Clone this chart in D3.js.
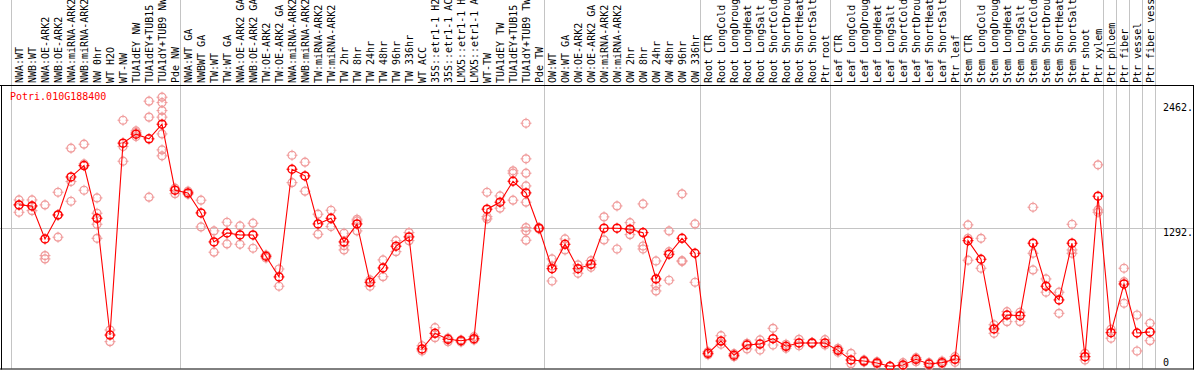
<!DOCTYPE html>
<html>
<head>
<meta charset="utf-8">
<script src="https://cdn.jsdelivr.net/npm/d3@7"></script>
<style>
    body { margin: 0; background: #fff; }
    svg { display: block; }
    text { font-family: "DejaVu Sans Mono", monospace; font-size: 10px; }
</style>
</head>
<body>
<div id="chart"></div>
<script>
const geneName = 'Potri.010G188400';

const sampleLabels = [
    'NWA:WT', 'NWB:WT', 'NWA:OE-ARK2', 'NWB:OE-ARK2', 'NWA:miRNA-ARK2', 'NWB:miRNA-ARK2', 'NW 0hr', 'WT H2O', 'WT-NW',
    'TUA1dEY NW', 'TUA1dEY+TUB15', 'TUA1dY+TUB9 NW', 'Pde NW',
    'NWA:WT GA', 'NWBWT GA', 'TW:WT', 'TW:WT GA', 'NWA:OE-ARK2 GA', 'NWB:OE-ARK2 GA', 'TW:OE-ARK2', 'TW:OE-ARK2 GA',
    'NWA:miRNA-ARK2', 'NWB:miRNA-ARK2', 'TW:miRNA-ARK2', 'TW:miRNA-ARK2', 'TW 2hr', 'TW 8hr', 'TW 24hr', 'TW 48hr',
    'TW 96hr', 'TW 336hr', 'WT ACC', '35S::etr1-1 H2O', '35S::etr1-1 ACC', 'LMX5::etr1-1 H2O', 'LMX5::etr1-1 ACC',
    'WT-TW', 'TUA1dEY TW', 'TUA1dEY+TUB15', 'TUA1dY+TUB9 TW', 'Pde TW',
    'OW:WT', 'OW:WT GA', 'OW:OE-ARK2', 'OW:OE-ARK2 GA', 'OW:miRNA-ARK2', 'OW:miRNA-ARK2', 'OW 2hr', 'OW 8hr',
    'OW 24hr', 'OW 48hr', 'OW 96hr', 'OW 336hr',
    'Root CTR', 'Root LongCold', 'Root LongDrought', 'Root LongHeat', 'Root LongSalt', 'Root ShortCold',
    'Root ShortDrought', 'Root ShortHeat', 'Root ShortSalt', 'Ptr root',
    'Leaf CTR', 'Leaf LongCold', 'Leaf LongDrought', 'Leaf LongHeat', 'Leaf LongSalt', 'Leaf ShortCold',
    'Leaf ShortDrought', 'Leaf ShortHeat', 'Leaf ShortSalt', 'Ptr leaf',
    'Stem CTR', 'Stem LongCold', 'Stem LongDrought', 'Stem LongHeat', 'Stem LongSalt', 'Stem ShortCold',
    'Stem ShortDrought', 'Stem ShortHeat', 'Stem ShortSalt', 'Ptr shoot', 'Ptr xylem',
    'Ptr phloem', 'Ptr fiber', 'Ptr vessel', 'Ptr fiber vessel'
];

const meanValues = [
    1510, 1500, 1192, 1416, 1771, 1877, 1385, 294, 2087, 2171, 2127, 2264, 1647,
    1622, 1435, 1164, 1248, 1229, 1229, 1030, 837, 1843, 1781, 1332, 1385, 1164, 1332, 787, 921,
    1124, 1211, 164, 310, 254, 241, 260, 1470, 1535, 1731, 1622, 1292,
    914, 1142, 914, 955, 1292, 1292, 1283, 1251, 818, 1049, 1198, 1058,
    123, 238, 105, 201, 210, 260, 189, 220, 220, 220,
    151, 61, 51, 33, 2, 14, 67, 23, 36, 67,
    1176, 1002, 351, 481, 475, 1152, 750, 622, 1152, 92, 1591,
    316, 771, 313, 323
];

const replicateValues = [
    [1556, 1510, 1441], [1556, 1500, 1456], [1510, 1036, 1005], [1628, 1416, 1208], [2040, 1728, 1544],
    [2077, 1893, 1647], [1575, 1432, 1329, 1198], [341, 232], [2301, 2055, 1918], [2201, 2186, 2148],
    [2479, 2330, 1582], [2516, 2466, 2391, 2330, 2173, 2024, 1968], [1666, 1615],
    [1638, 1610], [1554, 1304], [1267, 1068], [1348, 1145], [1313, 1142], [1339, 1105], [1042, 1014],
    [911, 750], [1974, 1718], [1909, 1638], [1423, 1236], [1460, 1307], [1245, 1129, 1089],
    [1376, 1360, 1267], [809, 750], [996, 839], [1176, 1073], [1251, 1176], [194, 145], [363, 269],
    [232, 266], [248, 229], [279, 248], [1628, 1400, 1379], [1594, 1479], [1828, 1806, 1554],
    [2273, 1940, 1806, 1687, 1535, 1298, 1267, 1180], [1298, 1285],
    [1005, 939, 799], [1192, 1089], [949, 871], [989, 927], [1398, 1183], [1500, 1098], [1344, 1232],
    [1519, 1126, 1098], [986, 755, 706], [1267, 1073, 806], [1613, 989, 980], [1332, 787],
    [138, 110], [288, 208], [120, 92], [217, 164], [248, 154], [357, 201], [208, 170], [254, 194],
    [225, 215], [251, 201],
    [170, 133], [123, 26], [61, 42], [45, 21], [0, 0], [36, 0], [82, 45], [36, 0], [51, 23], [92, 39],
    [1323, 1198, 993], [1198, 918], [390, 310], [512, 419], [507, 419], [1488, 1058, 902], [818, 694],
    [694, 497], [1329, 1089, 1058], [123, 61], [1884, 1463, 1441],
    [348, 264], [918, 793, 591], [481, 145], [404, 241]
];

// index of the last sample in each block (a grey divider follows it)
const groupEnds = [-1, 12, 40, 52, 62, 72, 83, 84, 85, 86, 87];

const yTickValues = [0, 1292, 2462];
const yTickLabels = ['0', '1292.', '2462.'];

const width = 1194;
const height = 370;
const plotTop = 85;
const plotBottom = 368.5;
const maxLabelChars = 14; // the header only has room for this many

const svg = d3.select('#chart').append('svg').attr('width', width).attr('height', height);

const x = d3.scaleLinear()
    .domain([0, sampleLabels.length - 1])
    .range([19, 19 + 13 * (sampleLabels.length - 1)]);

const y = d3.scaleLinear()
    .domain([0, 2462])
    .range([366.5, 103]);

const grid = '#c4c4c4';
const crisp = v => Math.round(v) + 0.5;

// horizontal grid line at the middle tick
svg.append('line')
    .attr('x1', 0).attr('x2', width)
    .attr('y1', crisp(y(1292))).attr('y2', crisp(y(1292)))
    .attr('stroke', grid);

// block dividers, running up through the label area
svg.append('g')
    .selectAll('line')
    .data(groupEnds)
    .join('line')
    .attr('x1', d => crisp(x(d) + 5))
    .attr('x2', d => crisp(x(d) + 5))
    .attr('y1', 0)
    .attr('y2', plotBottom)
    .attr('stroke', grid);

// frame
svg.append('line').attr('x1', 0).attr('x2', width).attr('y1', plotTop + 0.5).attr('y2', plotTop + 0.5).attr('stroke', '#000');
svg.append('line').attr('x1', 0).attr('x2', width).attr('y1', plotBottom + 0.5).attr('y2', plotBottom + 0.5).attr('stroke', '#000');
svg.append('line').attr('x1', 1.5).attr('x2', 1.5).attr('y1', plotTop).attr('y2', plotBottom + 1).attr('stroke', '#000');
svg.append('line').attr('x1', width - 0.5).attr('x2', width - 0.5).attr('y1', plotTop).attr('y2', plotBottom + 1).attr('stroke', '#000');

// sample labels, reading bottom to top
svg.append('g')
    .selectAll('text')
    .data(sampleLabels)
    .join('text')
    .attr('transform', (d, i) => `translate(${x(i) + 4},83) rotate(-90)`)
    .attr('text-anchor', 'start')
    .attr('fill', '#000')
    .text(d => d.slice(0, maxLabelChars));

// y tick labels
svg.append('g')
    .selectAll('text')
    .data(yTickValues)
    .join('text')
    .attr('x', 1163)
    .attr('y', d => Math.min(y(d) + 8, y(0) - 1))
    .attr('fill', '#000')
    .text((d, i) => yTickLabels[i]);

svg.append('text')
    .attr('x', 10)
    .attr('y', 100)
    .attr('fill', '#ff0000')
    .text(geneName);

function marker(g, color, sw) {
    const r = 4;
    g.append('circle').attr('r', r).attr('fill', 'none').attr('stroke', color).attr('stroke-width', sw);
    [[0, -1], [0, 1], [-1, 0], [1, 0]].forEach(([dx, dy]) => {
        g.append('line')
            .attr('x1', dx * (r - 1.5)).attr('y1', dy * (r - 1.5))
            .attr('x2', dx * (r + 1.5)).attr('y2', dy * (r + 1.5))
            .attr('stroke', color).attr('stroke-width', 1);
    });
}

// replicates
const reps = [];
replicateValues.forEach((vals, i) => vals.forEach(v => reps.push({ i, v })));

svg.append('g')
    .selectAll('g')
    .data(reps)
    .join('g')
    .attr('transform', d => `translate(${x(d.i)},${y(d.v)})`)
    .each(function () { marker(d3.select(this), '#f09a9a', 1.2); });

// mean line
const line = d3.line()
    .x((d, i) => x(i))
    .y(d => y(d));

svg.append('path')
    .datum(meanValues)
    .attr('d', line)
    .attr('fill', 'none')
    .attr('stroke', '#ff0000')
    .attr('stroke-width', 1.1);

svg.append('g')
    .selectAll('g')
    .data(meanValues)
    .join('g')
    .attr('transform', (d, i) => `translate(${x(i)},${y(d)})`)
    .each(function () { marker(d3.select(this), '#ff0000', 1.5); });
</script>
</body>
</html>
